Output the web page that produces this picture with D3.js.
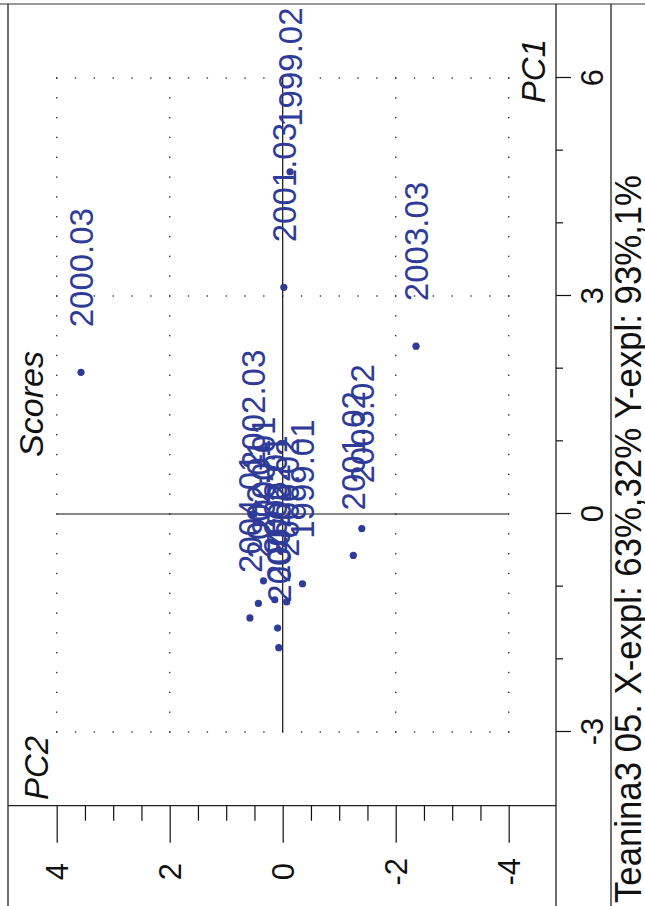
<!DOCTYPE html>
<html><head><meta charset="utf-8">
<script src="https://cdn.jsdelivr.net/npm/d3@7"></script>
<style>
html,body{margin:0;padding:0;background:#fff;}
svg{display:block;}
text{font-family:"Liberation Sans",Arial,sans-serif;}
</style></head>
<body>
<svg id="chart" width="645" height="906"></svg>
<script>
// ---- data ----
const sampleLabels = ["2000.03","1999.02","2001.03","2003.03","2003.02","2001.02","1999.01",
  "2000.01","2002.01","2004.01","2002.02","2004.02","2000.02","2003.01","2002.03"];
const pc1Scores = [1.95, 4.71, 3.12, 2.31, -0.20, -0.57, -0.96,
  -0.92, -1.23, -1.43, -1.57, -1.84, -1.21, -1.18, 0.00];
const pc2Scores = [3.57, -0.13, -0.02, -2.36, -1.40, -1.25, -0.35,
  0.34, 0.43, 0.58, 0.09, 0.07, -0.07, 0.14, 0.53];
const pc1Ticks = [-3, 0, 3, 6];
const pc2Ticks = [4, 2, 0, -2, -4];
const titleText = "Teanina3 05. X-expl: 63%,32%  Y-expl: 93%,1%";

// ---- layout (landscape chart, rotated -90deg) ----
const W = 906, H = 645;
const svg = d3.select("#chart");
const g = svg.append("g").attr("transform", `translate(0,${W}) rotate(-90)`);

const plotLeft = 100.3, plotRight = 902, plotTop = 8, plotBottom = 556, titleTop = 611;
const x = d3.scaleLinear().domain([-3, 6]).range([174, 828]);
const y = d3.scaleLinear().domain([4, -4]).range([56.7, 508.7]);
const blue = "#2e3b98";
const fmt = d => String(d);

// frame
const frame = g.append("g").attr("stroke", "#222").attr("stroke-width", 1.3).attr("fill", "none");
frame.append("line").attr("x1", plotRight).attr("x2", plotRight).attr("y1", 0).attr("y2", H).attr("stroke", "#777");
frame.append("line").attr("x1", 0).attr("x2", plotRight).attr("y1", plotTop).attr("y2", plotTop);
frame.append("line").attr("x1", plotLeft).attr("x2", plotLeft).attr("y1", plotTop).attr("y2", plotBottom);
frame.append("line").attr("x1", 0).attr("x2", plotRight).attr("y1", plotBottom).attr("y2", plotBottom);
frame.append("line").attr("x1", 0).attr("x2", plotRight).attr("y1", titleTop).attr("y2", titleTop);

// dotted grid
const gridDots = [];
[-3, 3, 6].forEach(v => {
  d3.range(0, 25).forEach(i => gridDots.push([x(v), y(4 - i / 3)]));
});
[4, 2, -2, -4].forEach(v => {
  d3.range(0, 34).forEach(i => gridDots.push([x(-3 + i * 3 / 11), y(v)]));
});
g.append("g").selectAll("rect").data(gridDots).join("rect")
  .attr("x", d => d[0] - 0.7).attr("y", d => d[1] - 0.7)
  .attr("width", 1.4).attr("height", 1.4).attr("fill", "#333");

// zero lines
g.append("line").attr("x1", x(-3)).attr("x2", x(6)).attr("y1", y(0)).attr("y2", y(0))
  .attr("stroke", "#111").attr("stroke-width", 1.2);
g.append("line").attr("x1", x(0)).attr("x2", x(0)).attr("y1", y(4)).attr("y2", y(-4))
  .attr("stroke", "#111").attr("stroke-width", 1.2);

// PC1 axis (bottom in landscape)
const axB = g.append("g").attr("transform", `translate(0,${plotBottom})`)
  .call(d3.axisBottom(x).tickValues(pc1Ticks).tickSize(15).tickFormat(fmt));
axB.select(".domain").remove();
axB.selectAll("line").attr("stroke", "#111").attr("stroke-width", 1.2);
axB.selectAll("text").attr("y", 47).attr("dy", 0).attr("font-size", 31)
  .attr("fill", "#111").style("font-family", "Liberation Sans, Arial, sans-serif");
const axBm = g.append("g").attr("transform", `translate(0,${plotBottom})`)
  .call(d3.axisBottom(x).tickValues([-2, -1, 1, 2, 4, 5]).tickSize(7).tickFormat(""));
axBm.select(".domain").remove();
axBm.selectAll("line").attr("stroke", "#111").attr("stroke-width", 1.2);

// PC2 axis (left in landscape)
const axL = g.append("g").attr("transform", `translate(${plotLeft},0)`)
  .call(d3.axisLeft(y).tickValues(pc2Ticks).tickSize(37).tickFormat(fmt));
axL.select(".domain").remove();
axL.selectAll("line").attr("stroke", "#111").attr("stroke-width", 1.2);
axL.selectAll("text").attr("x", -66).attr("dy", "0.36em").attr("text-anchor", "middle")
  .attr("font-size", 31).attr("fill", "#111").style("font-family", "Liberation Sans, Arial, sans-serif");
const minorPc2 = d3.range(-4, 4.01, 0.5).filter(v => v % 2 !== 0);
const axLm = g.append("g").attr("transform", `translate(${plotLeft},0)`)
  .call(d3.axisLeft(y).tickValues(minorPc2).tickSize(15).tickFormat(""));
axLm.select(".domain").remove();
axLm.selectAll("line").attr("stroke", "#111").attr("stroke-width", 1.2);

// labels
g.append("text").attr("x", 502).attr("y", 43).attr("text-anchor", "middle")
  .attr("font-size", 34).attr("font-style", "italic").attr("fill", "#111").text("Scores");
g.append("text").attr("x", 106).attr("y", 48).attr("text-anchor", "start")
  .attr("font-size", 33).attr("font-style", "italic").attr("fill", "#111").text("PC2");
g.append("text").attr("x", 867).attr("y", 545).attr("text-anchor", "end")
  .attr("font-size", 33).attr("font-style", "italic").attr("fill", "#111").text("PC1");
g.append("text").attr("x", 3).attr("y", 641).attr("font-size", 36).attr("fill", "#111")
  .attr("textLength", 728).attr("lengthAdjust", "spacingAndGlyphs").text(titleText);

// points
const pts = sampleLabels.map((l, i) => ({label: l, pc1: pc1Scores[i], pc2: pc2Scores[i]}));
g.append("g").selectAll("circle").data(pts).join("circle")
  .attr("cx", d => x(d.pc1)).attr("cy", d => y(d.pc2)).attr("r", 3.6).attr("fill", blue);
g.append("g").selectAll("text").data(pts).join("text")
  .attr("x", d => x(d.pc1) + 45).attr("y", d => y(d.pc2) + 12)
  .attr("font-size", 33).attr("fill", blue).text(d => d.label);
</script>
</body></html>
